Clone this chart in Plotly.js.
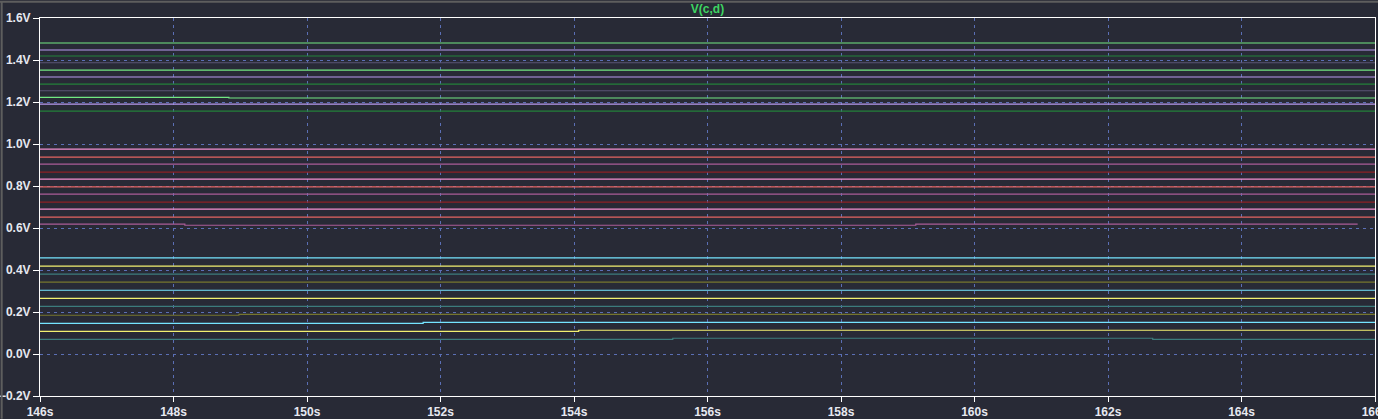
<!DOCTYPE html>
<html>
<head>
<meta charset="utf-8">
<script src="https://cdn.plot.ly/plotly-3.0.1.min.js"></script>
<style>
  html, body { margin: 0; padding: 0; background: #282a36; }
  #chart { width: 1378px; height: 419px; }
</style>
</head>
<body>
<div id="chart"></div>
<script>
// ---- data ----
const chartTitle = "V(c,d)";
const timeRange = [146, 166];
const voltRange = [-0.2, 1.6];

// upper group (green / lavender family)
const upperTimes = [
  [146, 166], [146, 166], [146, 166], [146, 166], [146, 166], [146, 166],
  [146, 166], [146, 166], [146, 148.83, 166], [146, 166], [146, 166]
];
const upperValues = [
  [1.481, 1.481], [1.4475, 1.4475], [1.419, 1.419], [1.387, 1.387],
  [1.352, 1.352], [1.319, 1.319], [1.285, 1.285], [1.2535, 1.2535],
  [1.222, 1.219, 1.219], [1.19, 1.19], [1.157, 1.157]
];

// middle group (pink / red family)
const middleTimes = [
  [146, 166], [146, 166], [146, 166], [146, 166], [146, 166], [146, 166],
  [146, 166], [146, 166], [146, 166], [146, 166], [146, 148.17, 159.12, 165.74]
];
const middleValues = [
  [0.9756, 0.9756], [0.9375, 0.9375], [0.904, 0.904], [0.866, 0.866],
  [0.8326, 0.8326], [0.796, 0.796], [0.761, 0.761], [0.723, 0.723],
  [0.690, 0.690], [0.6515, 0.6515], [0.618, 0.613, 0.618, 0.618]
];

// lower group (cyan / yellow family)
const lowerTimes = [
  [146, 166], [146, 166], [146, 166], [146, 166], [146, 166], [146, 166],
  [146, 166], [146, 148.98, 166], [146, 151.74, 166], [146, 154.07, 166],
  [146, 155.48, 162.67, 166]
];
const lowerValues = [
  [0.4575, 0.4575], [0.418, 0.418], [0.380, 0.380], [0.342, 0.342],
  [0.3035, 0.3035], [0.265, 0.265], [0.227, 0.227], [0.1845, 0.189, 0.189],
  [0.146, 0.151, 0.151], [0.108, 0.113, 0.113], [0.070, 0.075, 0.070, 0.070]
];

// ---- styles ----
const upperColors = ["#72e882", "#b89af0", "#23813a", "#5a5474"];
const middleColors = ["#f490d0", "#e46462", "#aa5c98", "#8c2226"];
const lowerColors = ["#74e4ff", "#f2f070", "#3c7c7c", "#76762e"];

function buildTraces(times, values, palette) {
  return times.map((t, i) => ({
    type: "scatter",
    mode: "lines",
    x: t,
    y: values[i],
    line: { color: palette[i % palette.length], width: 1.2, shape: "hv" },
    hoverinfo: "skip"
  }));
}

const traces = [
  ...buildTraces(upperTimes, upperValues, upperColors),
  ...buildTraces(middleTimes, middleValues, middleColors),
  ...buildTraces(lowerTimes, lowerValues, lowerColors)
];

const axisFont = { family: "Liberation Sans, Arial, sans-serif", size: 12, color: "#e6e8f0", weight: "bold" };
const gridColor = "#5b6fb5";

const layout = {
  width: 1378,
  height: 419,
  paper_bgcolor: "#282a36",
  plot_bgcolor: "#282a36",
  showlegend: false,
  margin: { l: 40, r: 3, t: 18, b: 23, pad: 0 },
  title: {
    text: "<b>" + chartTitle + "</b>",
    font: { family: "Liberation Sans, Arial, sans-serif", size: 12, color: "#3ed462" },
    x: 0.5, xref: "paper", xanchor: "center",
    y: 0.978, yref: "container", yanchor: "middle"
  },
  xaxis: {
    range: timeRange,
    tick0: 146, dtick: 2,
    ticksuffix: "s",
    ticks: "outside", ticklen: 5, tickcolor: "#ffffff", tickwidth: 1,
    ticklabeloverflow: "allow",
    showline: true, linecolor: "#ffffff", linewidth: 1, mirror: true,
    showgrid: true, gridcolor: gridColor, gridwidth: 1, griddash: "3px,4px",
    zeroline: false,
    tickfont: axisFont
  },
  yaxis: {
    range: voltRange,
    tick0: 0, dtick: 0.2,
    tickformat: ".1f",
    ticksuffix: "V",
    ticks: "outside", ticklen: 6, tickcolor: "#ffffff", tickwidth: 1,
    ticklabeloverflow: "allow",
    showline: true, linecolor: "#ffffff", linewidth: 1, mirror: true,
    showgrid: true, gridcolor: gridColor, gridwidth: 1, griddash: "3px,4px",
    zeroline: false,
    tickfont: axisFont
  },
  shapes: [
    { type: "line", xref: "paper", yref: "paper", x0: -0.03, x1: 1.01, y0: 1.043, y1: 1.043,
      line: { color: "#5e5e5e", width: 2 } },
    { type: "line", xref: "paper", yref: "paper", x0: -0.0287, x1: -0.0287, y0: -0.06, y1: 1.043,
      line: { color: "#5e5e5e", width: 2 } }
  ]
};

Plotly.newPlot("chart", traces, layout, { staticPlot: true, displayModeBar: false });
</script>
</body>
</html>
